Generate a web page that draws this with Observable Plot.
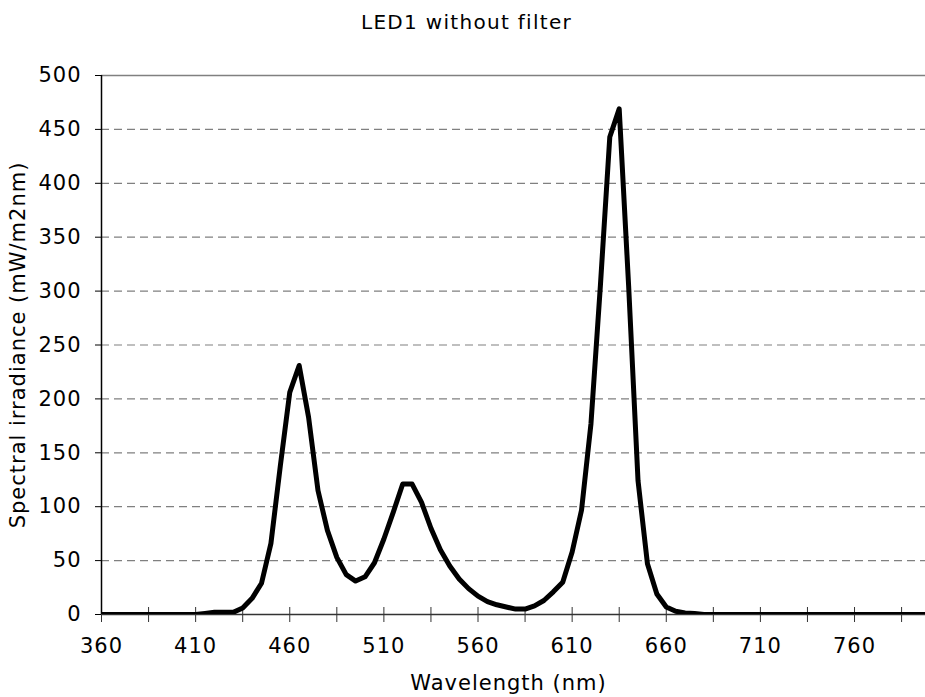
<!DOCTYPE html>
<html>
<head>
<meta charset="utf-8">
<script src="https://cdn.jsdelivr.net/npm/d3@7"></script>
<script src="https://cdn.jsdelivr.net/npm/@observablehq/plot@0.6"></script>
<style>
  body { margin: 0; background: #fff; }
  #title { height: 40px; line-height: 44px; text-align: center; padding-left: 8px;
           font-family: "DejaVu Sans", Verdana, sans-serif; font-size: 20px; letter-spacing: 1.3px; color: #000; }
</style>
</head>
<body>
<div id="title">LED1 without filter</div>
<div id="chart"></div>
<script>
const titleText = "LED1 without filter";
const xLabel = "Wavelength (nm)";
const yLabel = "Spectral irradiance (mW/m2nm)";

const wavelengths = [
  360, 365, 370, 375, 380, 385, 390, 395, 400, 405,
  410, 415, 420, 425, 430, 435, 440, 445, 450, 455,
  460, 465, 470, 475, 480, 485, 490, 495, 500, 505,
  510, 515, 520, 525, 530, 535, 540, 545, 550, 555,
  560, 565, 570, 575, 580, 585, 590, 595, 600, 605,
  610, 615, 620, 625, 630, 635, 640, 645, 650, 655,
  660, 665, 670, 675, 680, 685, 690, 695, 700, 705,
  710, 715, 720, 725, 730, 735, 740, 745, 750, 755,
  760, 765, 770, 775, 780, 785, 790, 795, 800
];
const irradiance = [
  0, 0, 0, 0, 0, 0, 0, 0, 0, 0,
  0, 1, 2, 2, 2, 6, 15, 29, 66, 138,
  206, 231, 183, 115, 78, 53, 37, 31, 35, 48,
  70, 95, 121, 121, 104, 80, 60, 45, 33, 24,
  17, 12, 9, 7, 5, 5, 8, 13, 21, 30,
  58, 97, 177, 305, 443, 469, 305, 124, 47, 19,
  7, 3, 1.5, 1, 0, 0, 0, 0, 0, 0,
  0, 0, 0, 0, 0, 0, 0, 0, 0, 0,
  0, 0, 0, 0, 0, 0, 0, 0, 0
];
const yTicks = [0, 50, 100, 150, 200, 250, 300, 350, 400, 450, 500];
const yGridDashed = [50, 100, 150, 200, 250, 300, 350, 400, 450];
const yGridSolid = [500];
const xTickMarks = [360, 385, 410, 435, 460, 485, 510, 535, 560, 585, 610, 635, 660, 685, 710, 735, 760, 785];
const xTickLabels = [360, 410, 460, 510, 560, 610, 660, 710, 760];
const xDomain = [360, 797.7];
const yDomain = [0, 500];

const data = wavelengths.map((w, i) => ({wl: w, v: irradiance[i]}));

const chart = Plot.plot({
  width: 925,
  height: 657,
  marginTop: 35,
  marginBottom: 83,
  marginLeft: 101,
  marginRight: 0,
  style: {fontFamily: '"DejaVu Sans", Verdana, sans-serif', fontSize: "21px", letterSpacing: "1px", color: "#000", background: "#fff"},
  x: {domain: xDomain, axis: null},
  y: {domain: yDomain, axis: null},
  marks: [
    Plot.gridY(yGridDashed, {stroke: "#808080", strokeOpacity: 1, strokeWidth: 1.2, strokeDasharray: "8,5"}),
    Plot.gridY(yGridSolid, {stroke: "#808080", strokeOpacity: 1, strokeWidth: 1.5}),
    Plot.axisY(yTicks, {anchor: "left", tickSize: 6, tickPadding: 14, stroke: "#000", label: null, fill: "#000"}),
    Plot.axisX(xTickMarks, {anchor: "bottom", tickSize: 15, dy: -7, tickFormat: () => "", stroke: "#333", label: null}),
    Plot.axisX(xTickLabels, {anchor: "bottom", tickSize: 0, tickPadding: 24, label: null, fill: "#000"}),
    Plot.ruleY([0], {stroke: "#333", strokeWidth: 1.5}),
    Plot.ruleX([360], {stroke: "#000", strokeWidth: 1.5}),
    Plot.line(data, {x: "wl", y: "v", stroke: "#000", strokeWidth: 5, clip: true}),
    Plot.text([yLabel], {text: d => d, frameAnchor: "left", rotate: -90, dx: -83, textAnchor: "middle", lineAnchor: "middle", fill: "#000"}),
    Plot.text([xLabel], {text: d => d, frameAnchor: "bottom", dy: 69, dx: -5, textAnchor: "middle", lineAnchor: "middle", fill: "#000"})
  ]
});
document.getElementById("chart").appendChild(chart);
</script>
</body>
</html>
